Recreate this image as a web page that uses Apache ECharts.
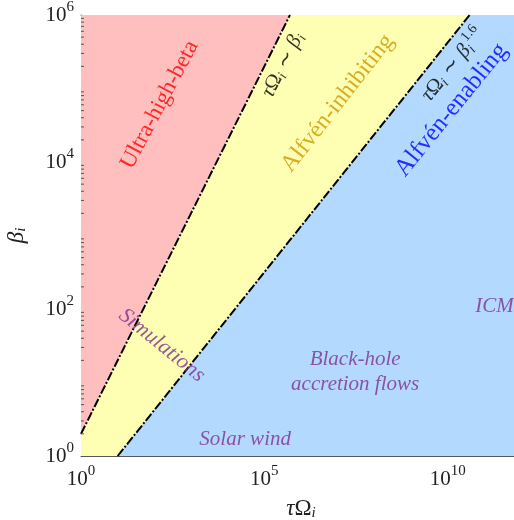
<!DOCTYPE html>
<html><head><meta charset="utf-8">
<script src="https://cdn.jsdelivr.net/npm/echarts@6/dist/echarts.min.js"></script>
<style>html,body{margin:0;padding:0;background:#fff}#c{width:514px;height:520px}</style>
</head><body><div id="c"></div>
<script>
// ---- data ----
const xRange = [1, 1e12];
const yRange = [1, 1e6];
const xLabelExponents = [0, 5, 10];
const yLabelExponents = [0, 2, 4, 6];
// boundary lines
const lineBeta = [[1, 2], [5e5, 1e6]];          // tau*Omega ~ beta
const lineBeta16 = [[10, 1], [3.98e10, 1e6]];   // tau*Omega ~ beta^1.6
// regions (polygons in data space)
const regionUltra = [[1, 2], [5e5, 1e6], [1, 1e6]];
const regionInhibit = [[1, 1], [1, 2], [5e5, 1e6], [3.98e10, 1e6], [10, 1]];
const regionEnable = [[10, 1], [3.98e10, 1e6], [1e12, 1e6], [1e12, 1]];
// minor log ticks on y
const yDecades = [1, 10, 100, 1e3, 1e4, 1e5];
const yMinorMult = [2, 3, 4, 5, 6, 7, 8, 9];
// annotations
const noteText = ['Ultra-high-beta', 'tauBeta', 'Alfvén-inhibiting', 'tauBeta16', 'Alfvén-enabling', 'Simulations', 'Black-hole\naccretion flows', 'Solar wind', 'ICM'];
const noteX = [1.4e2, 3.2e5, 1e7, 1.4e10, 1.26e10, 1.6e2, 3e7, 3e4, 1.9e11];
const noteY = [6e4, 2.1e5, 6.3e4, 2.1e5, 5.1e4, 32, 14, 1.66, 107];

// ---- styles ----
const FONT = 'Liberation Serif';
const regionColors = ['#ffbfbf', '#ffffb3', '#b3d9ff'];
const noteRot = [62, 63, 52, 51, 51, -39, 0, 0, 0];
const noteColor = ['#ff0000', '#000', '#cc9900', '#000', '#0000ff', '#7e2f8e', '#7e2f8e', '#7e2f8e', '#7e2f8e'];
const noteSize = [23, 21, 24, 21, 25, 22, 21, 21, 21];
const mathRich = {
  it: {fontFamily: FONT, fontStyle: 'italic', fontSize: 21, color: '#000'},
  n: {fontFamily: FONT, fontSize: 21, color: '#000'},
  sub: {fontFamily: FONT, fontStyle: 'italic', fontSize: 14, color: '#000', padding: [10, 0, 0, 0]},
  sup: {fontFamily: FONT, fontSize: 14, color: '#000', padding: [0, 0, 15, 0]}
};
const noteFormat = {
  tauBeta: '{it|τ}{n|Ω}{sub|i}{n| ∼ }{it|β}{sub|i}',
  tauBeta16: '{it|τ}{n|Ω}{sub|i}{n| ∼ }{it|β}{sub|i}{sup|1.6}'
};

const tickRich = {
  b: {fontFamily: FONT, fontSize: 21, color: '#222'},
  s: {fontFamily: FONT, fontSize: 15, color: '#222', padding: [0, 0, 16, 0]}
};
function tickFmt(list) {
  return function (v) {
    const e = Math.round(Math.log10(v));
    return list.indexOf(e) >= 0 ? '{b|10}{s|' + e + '}' : '';
  };
}
const axisCol = '#555';
function xAxisCfg(pos, labels) {
  return {
    type: 'log', logBase: 10, min: xRange[0], max: xRange[1], interval: 1, splitNumber: 12, position: pos,
    axisLine: {lineStyle: {color: axisCol, width: 1}},
    axisTick: {inside: true, length: 4, lineStyle: {color: axisCol}},
    axisLabel: {show: labels, formatter: tickFmt(xLabelExponents), rich: tickRich, margin: 8, showMinLabel: true, showMaxLabel: true, hideOverlap: false, interval: 0},
    splitLine: {show: false}, minorTick: {show: false}
  };
}
function yAxisCfg(pos, labels) {
  return {
    type: 'log', logBase: 10, min: yRange[0], max: yRange[1], interval: 1, splitNumber: 6, position: pos,
    axisLine: {lineStyle: {color: axisCol, width: 1}},
    axisTick: {inside: true, length: 5, lineStyle: {color: axisCol}},
    axisLabel: {show: labels, formatter: tickFmt(yLabelExponents), rich: tickRich, margin: 7, interval: 0},
    splitLine: {show: false}
  };
}

const chart = echarts.init(document.getElementById('c'), null, {renderer: 'canvas'});
const regions = [regionUltra, regionInhibit, regionEnable];
const minorData = [];
yDecades.forEach(d => yMinorMult.forEach(m => minorData.push([1, d * m])));

const xa0 = xAxisCfg('bottom', true);
xa0.name = '{it|τ}{n|Ω}{sub|i}';
xa0.nameLocation = 'middle';
xa0.nameGap = 40;
xa0.nameTextStyle = {rich: {
  it: {fontFamily: FONT, fontStyle: 'italic', fontSize: 23, color: '#222'},
  n: {fontFamily: FONT, fontSize: 23, color: '#222'},
  sub: {fontFamily: FONT, fontStyle: 'italic', fontSize: 15, color: '#222', padding: [10, 0, 0, 0]}
}};
const ya0 = yAxisCfg('left', true);
ya0.name = '{it|β}{sub|i}';
ya0.nameLocation = 'middle';
ya0.nameGap = 52;
ya0.nameRotate = 90;
ya0.nameTextStyle = xa0.nameTextStyle;

chart.setOption({
  animation: false,
  grid: {left: 81, top: 15, width: 440, height: 441, containLabel: false, outerBoundsMode: 'none'},
  xAxis: [xa0, xAxisCfg('top', false)],
  yAxis: [ya0, yAxisCfg('right', false)],
  series: [
    {
      type: 'custom', z: 1, silent: true, clip: true,
      data: regions.map(r => r[0]),
      encode: {x: 0, y: 1},
      renderItem: function (params, api) {
        const poly = regions[params.dataIndex].map(p => api.coord(p));
        return {type: 'polygon', shape: {points: poly}, style: {fill: regionColors[params.dataIndex], stroke: null}};
      }
    },
    {type: 'line', z: 3, data: lineBeta, symbol: 'none', silent: true,
     lineStyle: {color: '#000', width: 2, type: [9, 2, 2, 2]}},
    {type: 'line', z: 3, data: lineBeta16, symbol: 'none', silent: true,
     lineStyle: {color: '#000', width: 2, type: [9, 2, 2, 2]}},
    {
      type: 'custom', z: 4, silent: true, clip: false,
      data: minorData, encode: {x: 0, y: 1},
      renderItem: function (params, api) {
        const p = api.coord([api.value(0), api.value(1)]);
        return {type: 'line', shape: {x1: p[0], y1: p[1], x2: p[0] + 3, y2: p[1]}, style: {stroke: axisCol, lineWidth: 1}};
      }
    },
    {
      type: 'scatter', z: 5, symbolSize: 0, silent: true,
      data: noteText.map((t, i) => ({
        value: [noteX[i], noteY[i]],
        label: {
          show: true, position: 'inside', rotate: noteRot[i], align: 'center', verticalAlign: 'middle',
          formatter: noteFormat[t] || t,
          color: noteColor[i], fontFamily: FONT, fontSize: noteSize[i],
          fontStyle: i >= 5 ? 'italic' : 'normal', lineHeight: 25,
          rich: mathRich
        }
      }))
    }
  ]
});
</script></body></html>
